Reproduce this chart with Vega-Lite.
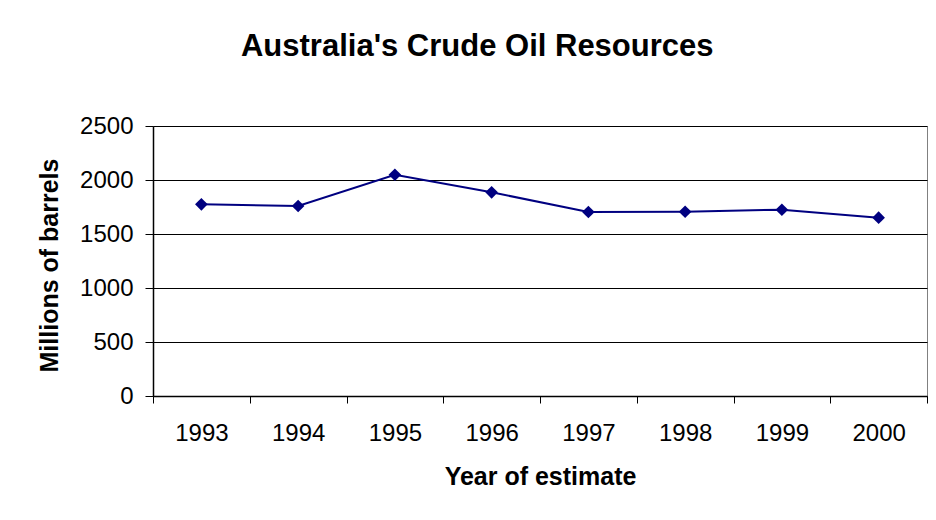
{
  "$schema": "https://vega.github.io/schema/vega-lite/v6.json",
  "width": 774,
  "height": 270,
  "autosize": {"type": "none"},
  "padding": {"left": 153, "top": 126, "right": 9, "bottom": 124},
  "background": "white",
  "title": {
    "text": "Australia's Crude Oil Resources",
    "font": "Liberation Sans",
    "fontSize": 31,
    "fontWeight": "bold",
    "color": "black",
    "anchor": "middle",
    "frame": "bounds",
    "baseline": "alphabetic",
    "offset": 27,
    "dx": -5
  },
  "config": {
    "view": {"stroke": "#808080", "strokeWidth": 1},
    "axis": {
      "labelFont": "Liberation Sans",
      "titleFont": "Liberation Sans",
      "labelColor": "black",
      "titleColor": "black",
      "domainColor": "black",
      "tickColor": "black"
    }
  },
  "data": {
    "values": [
      {"year": "1993", "barrels": 1775},
      {"year": "1994", "barrels": 1759},
      {"year": "1995", "barrels": 2049},
      {"year": "1996", "barrels": 1886},
      {"year": "1997", "barrels": 1704},
      {"year": "1998", "barrels": 1706},
      {"year": "1999", "barrels": 1725},
      {"year": "2000", "barrels": 1651}
    ]
  },
  "mark": {"type": "line", "color": "#000080", "strokeWidth": 2, "point": {"shape": "diamond", "size": 160, "filled": true, "color": "#000080", "opacity": 1}},
  "encoding": {
    "x": {
      "field": "year",
      "type": "ordinal",
      "scale": {"paddingInner": 0, "paddingOuter": 0},
      "axis": {
        "title": "Year of estimate",
        "labelAngle": 0,
        "labelFontSize": 24,
        "tickBand": "extent",
        "tickSize": 7,
        "labelPadding": 18,
        "titleFontSize": 25,
        "titleFontWeight": "bold",
        "titlePadding": 19,
        "grid": false,
        "domainWidth": 1.5,
        "tickWidth": 1
      }
    },
    "y": {
      "field": "barrels",
      "type": "quantitative",
      "scale": {"domain": [0, 2500], "nice": false},
      "axis": {
        "title": "Millions of barrels",
        "values": [0, 500, 1000, 1500, 2000, 2500],
        "labelFontSize": 24,
        "tickSize": 8,
        "labelPadding": 12,
        "titleFontSize": 25,
        "titleFontWeight": "bold",
        "titleAngle": -90,
        "titleAlign": "center",
        "titleBaseline": "middle",
        "titleX": -104,
        "titleY": 139,
        "grid": true,
        "gridColor": "black",
        "gridWidth": 1,
        "gridOpacity": 1,
        "domainWidth": 1.5,
        "format": "d"
      }
    }
  }
}
